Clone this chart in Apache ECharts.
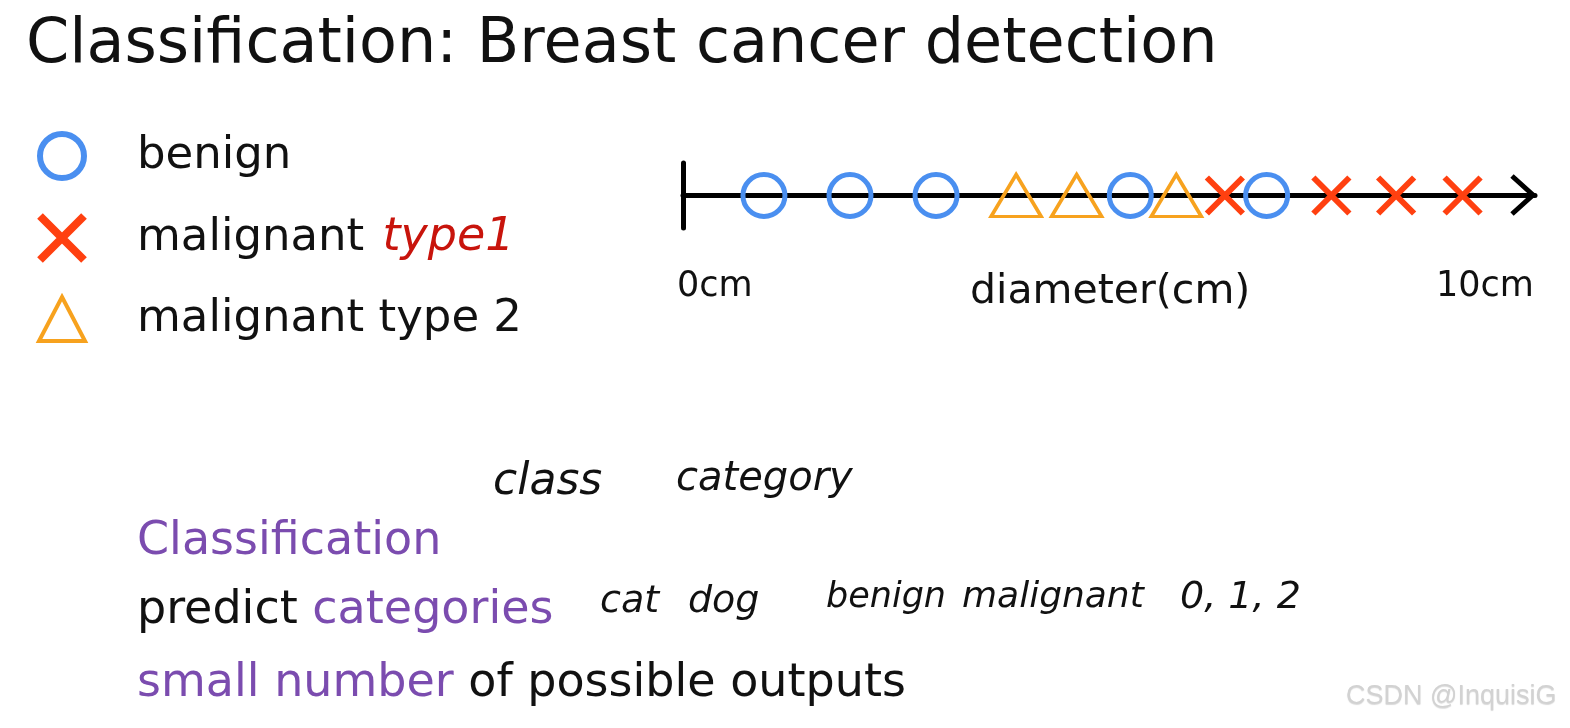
<!DOCTYPE html>
<html>
<head>
<meta charset="utf-8">
<script src="https://cdn.jsdelivr.net/npm/echarts@6/dist/echarts.min.js"></script>
<style>
  html, body { margin: 0; padding: 0; background: #fff; }
  #chart { width: 1570px; height: 728px; }
</style>
</head>
<body>
<div id="chart"></div>
<script>
// tumour diameters (cm)
const benign = [0.95, 1.96, 2.97, 5.25, 6.85];
const malignantType1 = [6.36, 7.61, 8.37, 9.15];
const malignantType2 = [3.91, 4.62, 5.79];

const seriesNames = ['benign', 'malignant type1', 'malignant type 2'];
const axisTickLabels = ['0cm', '10cm'];
const axisName = 'diameter(cm)';

const FONT = '"DejaVu Sans", Verdana, sans-serif';
const HAND = '"DejaVu Sans", sans-serif';
const BLUE = '#4a8ff0';
const RED = '#ff4010';
const ORANGE = '#f7a21e';
const PURPLE = '#7b4caf';

const CROSS = 'path://M0,0L10,10M10,0L0,10';

const chart = echarts.init(document.getElementById('chart'));

const toPoints = arr => arr.map(v => [v, 0]);
const hand = (text, x, y, size) => ({
  type: 'text',
  style: { text, x, y, font: 'italic 300 ' + size + 'px ' + HAND, fill: '#111', verticalAlign: 'middle' }
});

const option = {
  backgroundColor: '#ffffff',
  animation: false,
  title: {
    text: 'Classification: Breast cancer detection',
    left: 21,
    top: 10,
    textStyle: { fontFamily: FONT, fontSize: 62, fontWeight: 'normal', color: '#111' }
  },
  legend: {
    orient: 'vertical',
    left: 31,
    top: 126,
    itemWidth: 46,
    itemHeight: 44,
    itemGap: 31,
    data: [
      { name: seriesNames[0], itemStyle: { color: 'rgba(0,0,0,0)', borderColor: BLUE, borderWidth: 6 } },
      { name: seriesNames[1], itemStyle: { color: 'rgba(0,0,0,0)', borderColor: RED, borderWidth: 8 } },
      { name: seriesNames[2], itemStyle: { color: 'rgba(0,0,0,0)', borderColor: ORANGE, borderWidth: 4 } }
    ],
    textStyle: {
      fontFamily: FONT, fontSize: 45, color: '#111', lineHeight: 46,
      padding: [0, 0, 0, 47],
      rich: {
        r: { fontFamily: HAND, fontSize: 46, color: '#c8140c', fontStyle: 'italic', fontWeight: 300, lineHeight: 46, padding: [0, 0, 0, 4] }
      }
    },
    formatter: name => name === 'malignant type1' ? 'malignant {r|type1}' : name
  },
  grid: { left: 683, right: 35, top: 163, bottom: 500 },
  xAxis: {
    type: 'value', min: 0, max: 10,
    axisLine: { show: true, lineStyle: { color: '#000', width: 5 } },
    axisTick: { show: false }, axisLabel: { show: false }, splitLine: { show: false }
  },
  yAxis: {
    type: 'value', min: -1, max: 1,
    axisLine: { show: true, lineStyle: { color: '#000', width: 5 } },
    axisTick: { show: false }, axisLabel: { show: false }, splitLine: { show: false }
  },
  graphic: [
    { type: 'polyline', shape: { points: [[1512, 176], [1533, 195], [1512, 214]] },
      style: { stroke: '#000', lineWidth: 5, fill: null } },
    { type: 'text', style: { text: axisTickLabels[0], x: 677, y: 287, font: '35px ' + FONT, fill: '#111', verticalAlign: 'middle' } },
    { type: 'text', style: { text: axisName, x: 970, y: 292, font: '41px ' + FONT, fill: '#111', verticalAlign: 'middle' } },
    { type: 'text', style: { text: axisTickLabels[1], x: 1436, y: 287, font: '35px ' + FONT, fill: '#111', verticalAlign: 'middle' } },
    hand('class', 493, 483, 44),
    hand('category', 676, 480, 40),
    { type: 'text', style: { text: 'Classification', x: 137, y: 542, font: '46px ' + FONT, fill: PURPLE, verticalAlign: 'middle' } },
    { type: 'text', style: { text: '{k|predict }{p|categories}', x: 137, y: 611, verticalAlign: 'middle',
      rich: { k: { font: '46px ' + FONT, fill: '#111' }, p: { font: '46px ' + FONT, fill: PURPLE } } } },
    hand('cat', 600, 602, 38),
    hand('dog', 688, 602, 38),
    hand('benign', 826, 598, 35),
    hand('malignant', 962, 598, 36),
    hand('0, 1, 2', 1180, 598, 38),
    { type: 'text', style: { text: '{p|small number}{k| of possible outputs}', x: 137, y: 684, verticalAlign: 'middle',
      rich: { k: { font: '46px ' + FONT, fill: '#111' }, p: { font: '46px ' + FONT, fill: PURPLE } } } },
    { type: 'text', style: { text: 'CSDN @InquisiG', x: 1346, y: 697, font: '27px "Liberation Sans", sans-serif', fill: '#d2d2d2', verticalAlign: 'middle',
      textShadowColor: 'rgba(0,0,0,0.15)', textShadowBlur: 1, textShadowOffsetY: 1 } }
  ],
  series: [
    {
      name: seriesNames[0], type: 'scatter', symbol: 'circle', symbolSize: 42, z: 3,
      itemStyle: { color: 'rgba(0,0,0,0)', borderColor: BLUE, borderWidth: 5, opacity: 1 },
      data: toPoints(benign)
    },
    {
      name: seriesNames[1], type: 'scatter', symbol: CROSS, symbolSize: 36, z: 3,
      itemStyle: { color: 'rgba(0,0,0,0)', borderColor: RED, borderWidth: 6, opacity: 1 },
      data: toPoints(malignantType1)
    },
    {
      name: seriesNames[2], type: 'scatter', symbol: 'triangle', symbolSize: [50, 42], z: 3,
      itemStyle: { color: 'rgba(0,0,0,0)', borderColor: ORANGE, borderWidth: 3.5, opacity: 1 },
      data: toPoints(malignantType2)
    }
  ]
};

chart.setOption(option);
</script>
</body>
</html>
